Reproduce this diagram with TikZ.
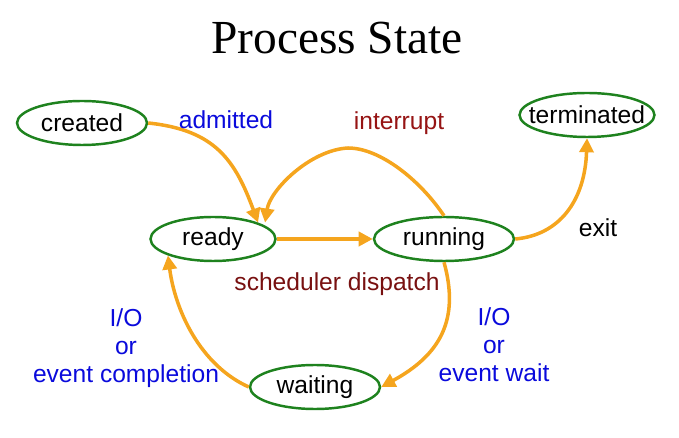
\documentclass[tikz,border=0pt]{standalone}
\usepackage{fontspec}
\setmainfont{Liberation Sans}
\newfontfamily\titlefont{Liberation Serif}
\usetikzlibrary{shapes.geometric,arrows.meta}
\definecolor{edgeor}{RGB}{245,165,30}
\definecolor{nodegr}{RGB}{30,130,30}
\definecolor{lblue}{RGB}{10,10,220}
\definecolor{lred}{RGB}{150,20,20}
\begin{document}
\begin{tikzpicture}[x=0.02cm,y=-0.02cm,
  st/.style={ellipse,draw=nodegr,line width=1.4pt,fill=white,minimum width=#1,minimum height=0.88cm,inner sep=0pt,font=\fontsize{14}{16}\selectfont},
  st/.default=2.6cm,
  ar/.style={draw=edgeor,line width=2pt,-{Triangle[length=8pt,width=8pt]}},
  lb/.style={font=\fontsize{14}{16}\selectfont,align=center}]
\useasboundingbox (0,0) rectangle (679,438);
\node[font=\titlefont\fontsize{27}{30}\selectfont] (title) at (337,38) {Process State};
\node[st] (created) at (82,123) {created};
\node[st=2.7cm,inner xsep=-9pt] (term) at (587,115) {terminated};
\node[st=2.5cm] (ready) at (213,239) {ready};
\node[st=2.8cm] (running) at (444,239) {running};
\node[st] (waiting) at (315,387) {waiting};
\draw[ar] (created.east) .. controls (215,130) and (235,160) .. (ready.north east);
\draw[ar] (running.north) .. controls (420,180) and (380,148) .. (348,148) .. controls (310,150) and (270,190) .. ([xshift=4pt]ready.north east);
\draw[ar] (ready.east) -- (running.west);
\draw[ar] (running.east) .. controls (560,235) and (585,200) .. (term.south);
\draw[ar] (running.south) .. controls (460,320) and (440,355) .. (waiting.east);
\draw[ar] (waiting.west) .. controls (200,365) and (175,310) .. (ready.south west);
\node[lb,text=lblue] (l1) at (226,120) {admitted};
\node[lb,text=lred] (l2) at (399,123) {interrupt};
\node[lb] (l3) at (598,228) {exit};
\node[lb,text=lred!80!black] (l4) at (337,284) {scheduler dispatch};
\node[lb,text=lblue] (l5) at (126,348) {I/O\\or\\event completion};
\node[lb,text=lblue] (l6) at (494,345) {I/O\\or\\event wait};
\end{tikzpicture}
\end{document}
